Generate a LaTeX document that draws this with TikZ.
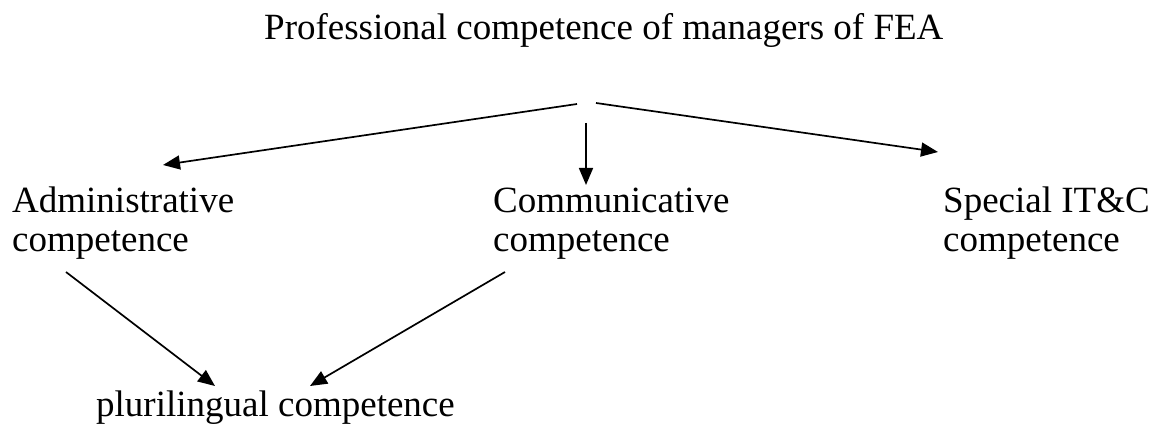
\documentclass[tikz,border=0pt]{standalone}
\usepackage{fontspec}
\setmainfont{Liberation Serif}
\usetikzlibrary{arrows.meta}
\tikzset{
    lbl/.style={inner sep=0pt, anchor=base west, align=left, font=\fontsize{37}{39}\selectfont},
    arr/.style={-{Triangle[length=17pt,width=14pt]}, line width=1.7pt}
}
\begin{document}
\begin{tikzpicture}[x=1pt,y=-1pt]
        \useasboundingbox (0,0) rectangle (1157,427);
        \node[lbl] (title) at (264,40) {Professional competence of managers of FEA};
        \foreach \x/\y/\n/\l in {12/252/admin/{Administrative\\competence},493/252/comm/{Communicative\\competence},943/252/spec/{Special IT\&C\\competence},96/417/pluri/{plurilingual competence}}{
            \node[lbl] (\n) at (\x,\y) {\l};
        }
        \coordinate (hubl) at (577,104);
        \coordinate (hubd) at (586,123);
        \coordinate (hubr) at (596,103);
        \draw[arr] (hubl) -- ([shift={(151,-87)}]admin.base west);
        \draw[arr] (hubd) -- ([shift={(93,-67)}]comm.base west);
        \draw[arr] (hubr) -- ([shift={(-5,-100)}]spec.base west);
        \draw[arr] ([shift={(54,20)}]admin.base west) -- ([shift={(119,-31)}]pluri.base west);
        \draw[arr] ([shift={(12,20)}]comm.base west) -- ([shift={(214,-31)}]pluri.base west);
    \end{tikzpicture}
\end{document}
